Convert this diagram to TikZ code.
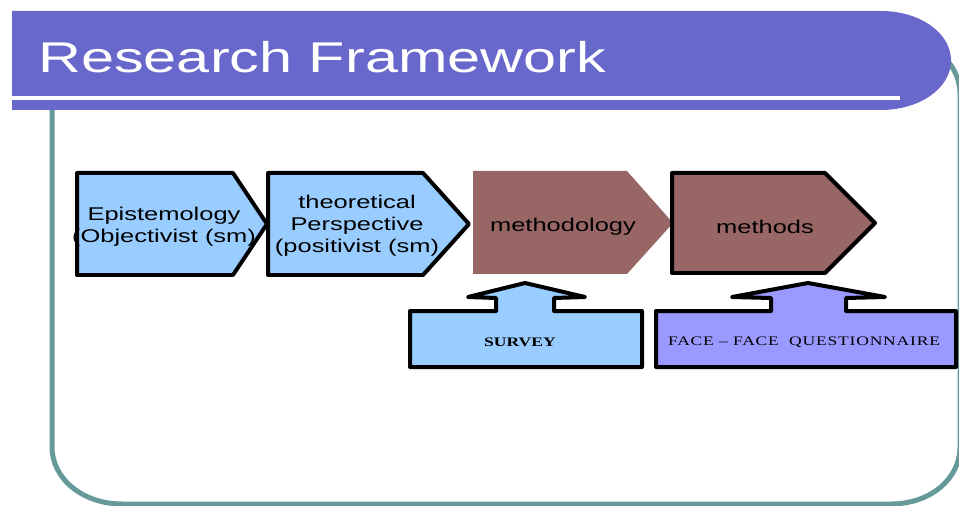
\documentclass[tikz,border=0pt]{standalone}
\usepackage{fontspec}
\newfontfamily\slideSans[FakeStretch=1.38]{Liberation Sans}
\newfontfamily\slideSerif[FakeStretch=1.35]{Liberation Serif}
\newfontfamily\slideSerifWide[FakeStretch=1.35,LetterSpace=6]{Liberation Serif}
\usepackage{xcolor}
\definecolor{titleBg}{HTML}{6868CC}
\definecolor{frameTeal}{HTML}{669999}
\definecolor{stepBlue}{HTML}{99CCFF}
\definecolor{stepBrown}{HTML}{996666}
\definecolor{tagLilac}{HTML}{9999FF}
\usepackage{tikz}
\usetikzlibrary{positioning,calc}
\tikzset{%
  titleBar/.style={%
    fill=titleBg,
    draw=none
  },
  frameLine/.style={%
    draw=frameTeal,
    line width=0.1cm
  },
  chevronBlue/.style={%
    fill=stepBlue,
    draw=black,
    line width=0.08cm,
    line join=round
  },
  chevronBrown/.style={%
    fill=stepBrown,
    draw=none
  },
  chevronBrownLined/.style={%
    fill=stepBrown,
    draw=black,
    line width=0.08cm,
    line join=round
  },
  upCallout/.style={%
    draw=black,
    line width=0.08cm,
    line join=round
  },
  stepText/.style={%
    align=center,
    inner sep=0pt,
    font=\slideSans\fontsize{10.5}{12.5}\selectfont
  }
}

\begin{document}
\begin{tikzpicture}[x=0.02cm,y=-0.02cm]
  \useasboundingbox (0,0) rectangle (959,506);

  % frame behind the title
  \draw[frameLine] (52,94) -- (52,447)
    .. controls (52,479) and (83,504) .. (122,504) -- (891,504)
    .. controls (930,504) and (960,479) .. (960,447) -- (960,94)
    .. controls (960,62) and (930,37) .. (891,37) -- (122,37)
    .. controls (83,37) and (52,62) .. cycle;

  % title bar
  \fill[titleBar] (12,11) -- (881,11)
    .. controls (920,11) and (951,33) .. (951,60.5)
    .. controls (951,88) and (920,110) .. (881,110) -- (12,110) -- cycle;
  \draw[white, line width=0.08cm] (12,98) -- (900,98);
  \node[anchor=base west, inner sep=0pt, text=white,
        font=\slideSans\fontsize{24.5}{28}\selectfont] (title) at (38,73) {Research Framework};

  % steps
  \draw[chevronBlue] (77,173) -- (233,173) -- (267,224) -- (233,275) -- (77,275) -- cycle;
  \draw[chevronBlue] (268,173) -- (423,173) -- (469,224) -- (423,275) -- (268,275) -- cycle;
  \fill[chevronBrown] (473,171) -- (627,171) -- (673,223) -- (627,274) -- (473,274) -- cycle;
  \draw[chevronBrownLined] (672,173) -- (825,173) -- (875,223) -- (825,273) -- (672,273) -- cycle;

  \node[stepText] (epi) at (164,227) {Epistemology\\(Objectivist (sm)};
  \node[stepText] (theo) at (357,226) {theoretical\\Perspective\\(positivist (sm)};
  \node[stepText] (methy) at (563,227) {methodology};
  \node[stepText] (meth) at (765,227) {methods};

  % callouts below
  \draw[upCallout, fill=stepBlue] (410,367) -- (410,311) -- (496,311) -- (496,298) -- (468,297)
    -- (525,283) -- (585,297) -- (554,298) -- (554,311) -- (642,311) -- (642,367) -- cycle;
  \draw[upCallout, fill=tagLilac] (656,367) -- (656,311) -- (771,311) -- (771,298) -- (732,297)
    -- (808,283) -- (885,297) -- (846,298) -- (846,311) -- (956,311) -- (956,367) -- cycle;

  \node[inner sep=0pt, font=\slideSerif\bfseries\fontsize{7.4}{9}\selectfont] (survey) at (520,342) {SURVEY};
  \node[inner sep=0pt, font=\slideSerifWide\fontsize{7.4}{9}\selectfont] (face) at (804,342) {FACE – FACE\ \ QUESTIONNAIRE};
\end{tikzpicture}
\end{document}
